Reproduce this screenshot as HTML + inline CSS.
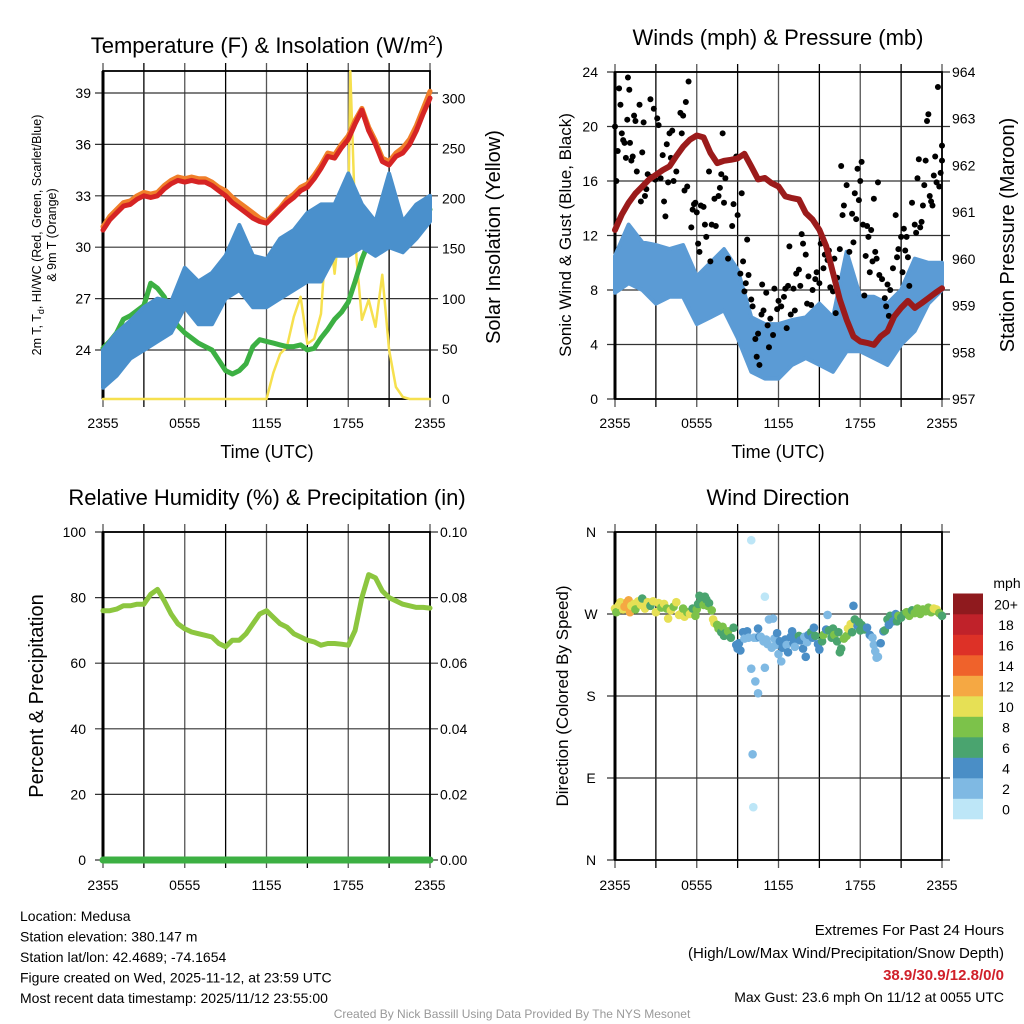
<!DOCTYPE html>
<html><head><meta charset="utf-8"><style>
body{margin:0;background:#fff;width:1024px;height:1024px;overflow:hidden}
svg{display:block;font-family:"Liberation Sans",sans-serif}
</style></head><body>
<svg id="s" width="1024" height="1024" viewBox="0 0 1024 1024"></svg>
<script>
// ---- data ----
const hours = [0,0.5,1,1.5,2,2.5,3,3.5,4,4.5,5,5.5,6,6.5,7,7.5,8,8.5,9,9.5,10,10.5,11,11.5,12,12.5,13,13.5,14,14.5,15,15.5,16,16.5,17,17.5,18,18.5,19,19.5,20,20.5,21,21.5,22,22.5,23,23.5,24];
const hourly = [0,1,2,3,4,5,6,7,8,9,10,11,12,13,14,15,16,17,18,19,20,21,22,23,24];
const tempRed = [31.0,31.6,32.0,32.4,32.5,32.8,33.0,32.9,33.0,33.4,33.7,33.9,33.8,33.9,33.8,33.8,33.6,33.3,33.0,32.6,32.3,32.0,31.7,31.5,31.4,31.8,32.2,32.6,32.9,33.3,33.5,34.0,34.6,35.3,35.2,35.8,36.3,37.2,38.0,36.8,36.0,35.0,34.8,35.3,35.5,36.0,36.8,37.8,38.7];
const temp9m = [31.2,31.8,32.2,32.6,32.7,33.0,33.2,33.1,33.2,33.6,33.9,34.1,34.0,34.1,34.0,34.0,33.8,33.5,33.3,32.9,32.6,32.3,32.0,31.7,31.5,31.9,32.3,32.8,33.1,33.5,33.7,34.2,34.8,35.5,35.4,36.0,36.5,37.4,38.1,37.0,36.2,35.2,35.0,35.5,35.8,36.3,37.1,38.1,39.1];
const dewGreen = [24.1,24.5,25.0,25.8,26.0,26.3,26.6,27.9,27.6,27.1,26.0,25.4,25.0,24.7,24.4,24.2,24.0,23.4,22.8,22.6,22.8,23.2,24.2,24.6,24.5,24.4,24.3,24.2,24.2,24.3,24.0,24.1,24.7,25.2,25.8,26.2,26.8,28.0,29.3,30.3,31.4,31.8,31.0,30.8,31.0,31.3,31.6,31.9,32.2];
const wcLow  = [21.8,22.5,23.5,24.0,24.5,25.0,26.5,25.5,25.5,27.0,27.5,26.5,26.5,27.0,27.5,28.0,28.0,29.5,29.5,30.0,29.5,30.0,29.7,30.5,31.5];
const wcHigh = [24.0,25.0,25.7,26.5,27.0,26.8,28.8,28.0,28.5,29.5,31.3,29.5,29.3,30.5,31.0,32.0,32.5,32.5,34.3,32.5,31.5,34.3,31.5,32.5,33.0];
const solarTimes = [0,12,12.5,13,13.5,14,14.5,15,15.5,16,16.5,17,17.5,18,18.15,18.6,19,19.5,20,20.5,21,21.5,22,22.5,24];
const solarVals = [0,0,26,45,52,82,102,55,60,85,185,125,192,182,327,142,79,99,72,124,49,12,2,0,0];
const tempTicks = [24,27,30,33,36,39];
const solarTicks = [0,50,100,150,200,250,300];
const timeLabels = ["2355","0555","1155","1755","2355"];

const windLow  = [7.8,8.5,8.0,7.0,7.5,7.5,5.5,6.0,6.5,4.5,2.0,1.5,1.5,2.5,3.0,2.5,2.0,3.5,3.5,3.0,2.5,4.0,5.0,7.0,8.0];
const windHigh = [10.5,12.8,11.5,11.3,11.0,11.3,9.0,10.0,11.0,9.5,6.0,5.5,5.5,5.8,6.0,7.0,6.0,10.8,7.5,7.5,7.0,8.0,10.3,10.0,10.0];
const pressure = [960.62,960.95,961.2,961.4,961.55,961.7,961.8,961.9,961.98,962.2,962.4,962.55,962.64,962.6,962.27,962.05,962.1,962.12,962.15,962.25,961.98,961.7,961.73,961.62,961.55,961.34,961.3,961.27,960.98,960.84,960.62,960.27,959.7,959.13,958.7,958.34,958.23,958.2,958.16,958.34,958.45,958.77,958.95,959.1,958.95,959.05,959.16,959.27,959.37];
const gustTimes = [0,0.1,0.2,0.3,0.4,0.5,0.6,0.7,0.8,0.9,0.95,1.05,1.1,1.2,1.3,1.4,1.5,1.6,1.8,1.9,2.0,2.1,2.2,2.3,2.4,2.6,2.7,2.85,2.95,3.1,3.2,3.35,3.5,3.6,3.7,3.8,3.9,4.0,4.1,4.2,4.3,4.5,4.8,4.9,5.0,5.1,5.2,5.3,5.4,5.6,5.7,5.8,5.9,6.0,6.1,6.2,6.3,6.5,6.6,6.7,6.9,7.0,7.1,7.3,7.4,7.6,7.7,7.8,7.9,8.0,8.1,8.3,8.6,8.7,8.9,9.0,9.2,9.3,9.4,9.5,9.6,9.7,9.8,10.0,10.1,10.3,10.4,10.5,10.6,10.75,10.8,10.9,11.1,11.2,11.3,11.4,11.6,11.7,11.9,12.0,12.2,12.4,12.5,12.6,12.7,12.8,12.9,13.1,13.2,13.3,13.5,13.6,13.7,13.8,14.0,14.1,14.2,14.4,14.5,14.7,14.8,15.0,15.1,15.3,15.4,15.6,15.7,15.8,16.0,16.1,16.2,16.3,16.5,16.6,16.7,16.8,17.0,17.2,17.4,17.5,17.6,17.7,17.8,17.9,18.0,18.1,18.2,18.3,18.4,18.5,18.6,18.7,18.8,18.9,19.0,19.1,19.2,19.3,19.4,19.6,19.8,19.9,20.0,20.1,20.2,20.4,20.6,20.7,20.8,21.0,21.1,21.2,21.3,21.4,21.5,21.6,21.8,22.0,22.1,22.2,22.3,22.4,22.5,22.6,22.7,22.8,22.9,23.0,23.1,23.2,23.3,23.4,23.5,23.6,23.7,23.8,23.9,24.0,24.0];
const gustVals = [20,16,18.2,22.8,21.6,19.5,19,18.8,17.7,20.5,23.6,22.7,18.8,17.5,17.8,20.8,20.4,16.7,21.6,14.5,18.1,20.3,14.9,15.4,16.5,22,16.3,21.3,16.1,20.6,20.1,16.2,17.9,14.5,13.4,18.7,15.9,19.5,17.7,19.7,16.0,16.7,21,19.5,20.8,15.3,21.8,15.6,23.3,12.6,13.9,14.3,14.4,13.7,11.4,10.8,14.2,14.1,12.8,11.9,16.7,10.1,12.8,14.7,12.7,14.9,15.5,16.5,19.5,14.4,16.2,10.3,12.7,14.3,17.8,13.5,9.2,15.1,10.1,7.9,8.5,11.7,9.1,7.3,6.8,4.4,3.1,4.8,2.5,6.2,8.4,6.5,7.8,5.4,3.8,5.9,4.7,8.1,6.6,7.2,6.8,7.5,8.1,5.2,8.3,11.2,6.2,8.1,6.5,9.2,9.5,8.3,12.1,11.4,10.6,7.0,9.0,6.9,8.0,8.8,9.3,8.5,11.4,9.6,10.6,10.2,10.9,8.2,7.9,10.3,6.3,8.9,11.0,17.1,13.5,14.2,15.7,10.8,13.6,11.5,15.1,13.2,16.9,14.6,16.0,17.4,12.8,7.6,10.5,12.7,11.9,9.3,12.4,10.1,14.7,10.8,10.3,15.9,9.1,8.8,7.4,6.8,8.4,6.1,8.0,9.6,13.5,10.4,11.0,11.9,9.3,12.5,10.9,11.9,10.4,8.3,14.4,12.8,12.2,16.2,17.6,12.6,13.0,14.2,15.7,17.5,20.4,20.9,14.9,14.5,14.2,16.4,17.8,15.9,22.9,15.6,16.6,18.6,17.5];
const windTicks = [0,4,8,12,16,20,24];
const pressTicks = [957,958,959,960,961,962,963,964];

const rh = [76,76,76.5,77.5,77.5,78,78,81,82.5,79,75,72,70.5,69.5,69,68.5,68,66,65,67,67,69,72,75,76,74,72,71,69,68,67,66.5,65.5,66,66,65.8,65.5,70,80,87,86,82,80,79,78,77.5,77,77,76.8];
const precip = [0,0,0,0,0,0,0,0,0,0,0,0,0,0,0,0,0,0,0,0,0,0,0,0,0];
const rhTicks = [0,20,40,60,80,100];
const precipTicks = ["0.00","0.02","0.04","0.06","0.08","0.10"];

const dirTimes = [0.0,0.1,0.3,0.4,0.6,0.7,0.9,1.0,1.1,1.2,1.4,1.5,1.7,1.9,2.0,2.2,2.4,2.6,2.8,3.0,3.2,3.4,3.6,3.8,3.9,4.1,4.3,4.5,4.7,4.9,5.0,5.1,5.3,5.5,5.7,5.9,6.0,6.1,6.2,6.3,6.5,6.6,6.7,6.8,6.9,7.1,7.2,7.3,7.5,7.6,7.8,7.9,8.0,8.1,8.3,8.5,8.7,8.9,9.0,9.1,9.2,9.4,9.5,9.7,9.8,10.0,10.0,10.1,10.15,10.2,10.3,10.4,10.5,10.5,10.6,10.7,10.9,11.0,11.0,11.1,11.2,11.3,11.5,11.6,11.7,11.8,11.9,12.0,12.1,12.2,12.3,12.5,12.6,12.7,12.9,13.0,13.1,13.2,13.4,13.5,13.6,13.8,13.9,14.0,14.1,14.2,14.4,14.5,14.6,14.7,14.9,15.0,15.2,15.3,15.5,15.6,15.7,15.9,16.0,16.1,16.3,16.4,16.5,16.6,16.8,17.0,17.1,17.3,17.4,17.5,17.6,17.8,17.9,18.0,18.1,18.3,18.5,18.7,18.9,19.0,19.1,19.2,19.3,19.5,19.7,19.8,20.0,20.1,20.2,20.4,20.6,20.7,20.8,21.0,21.2,21.4,21.6,21.8,22.0,22.2,22.4,22.6,22.8,23.0,23.2,23.4,23.6,23.8,24.0];
const dirVals = [276,272,280,283,275,278,283,285,272,279,281,275,284,280,287,276,283,279,284,272,282,277,281,276,265,274,278,283,269,271,276,267,272,270,276,268,275,281,290,284,280,289,286,279,282,274,264,260,258,254,250,256,246,249,251,244,255,236,232,238,230,250,243,251,244,351,210,116,58,244,196,244,183,254,245,245,240,289,211,242,237,264,233,265,243,236,249,226,240,218,233,242,236,228,245,251,238,234,244,246,241,232,245,223,239,247,250,244,255,246,237,231,240,247,253,269,252,244,254,247,240,250,228,232,243,246,254,259,250,279,264,257,261,252,258,253,255,247,244,236,229,222,223,238,251,252,264,258,268,262,270,262,268,266,270,272,268,274,271,276,270,275,273,277,272,276,275,271,268];
const dirSpeeds = [10,9,10,11,10,12,13,13,12,10,10,9,10,10,7,10,10,7,10,10,10,9,10,9,10,10,9,10,10,10,9,10,9,10,6,8,8,6,6,7,8,6,6,8,6,8,10,10,8,8,7,8,6,7,8,6,6,4,4,4,4,5,2,4,3,0,2,2,0,3,2,2,2,4,4,2,2,1,2,2,2,2,2,2,3,2,4,3,4,2,4,4,2,4,4,5,4,2,4,6,4,4,3,4,2,4,6,4,5,6,4,4,6,8,4,2,6,7,6,8,7,6,6,6,8,8,10,10,7,4,6,4,6,7,6,7,4,4,2,2,2,2,2,4,5,6,6,5,6,4,4,6,8,6,7,8,8,7,8,8,9,8,8,8,9,10,10,8,7];
const speedColors = ["#bde6f7","#7fb9e3","#4a8ec6","#4aa46f","#7cc24a","#e6e055","#f5a843","#ef622b","#dd3127","#c0222a","#8f1a1e"];
const speedLabels = ["0","2","4","6","8","10","12","14","16","18","20+"];
const dirTicks = ["N","E","S","W","N"];

// ---- drawing ----
const NS="http://www.w3.org/2000/svg", S=document.getElementById('s');
function el(tag,attrs,parent,text){const e=document.createElementNS(NS,tag);for(const k in attrs)e.setAttribute(k,attrs[k]);if(text!==undefined)e.textContent=text;(parent||S).appendChild(e);return e;}
function lin(d0,d1,r0,r1){return v=>r0+(v-d0)/(d1-d0)*(r1-r0);}

function frame(g,x0,x1,y0,y1,yTicks,ys){
  for(let i=0;i<=8;i++){const x=x0+(x1-x0)*i/8;
    const l=el('line',{x1:x,x2:x,y1:y0-8,y2:y1+8,stroke:i%2?'#000':'#555','stroke-width':1.3},g);
    
    }
  yTicks.forEach(t=>{const y=ys(t);
    const l=el('line',{x1:x0-8,x2:x1+8,y1:y,y2:y,stroke:'#333','stroke-width':1.2},g);
    
    });
  const r=el('rect',{x:x0,y:y0,width:x1-x0,height:y1-y0,fill:'none',stroke:'#000','stroke-width':1.8},g);
  
  
  el('line',{x1:x0,x2:x0,y1:y0,y2:y1,stroke:'#000','stroke-width':3},g);
}
function xLabels(g,x0,x1,y){timeLabels.forEach((t,i)=>{const tx=el('text',{x:x0+(x1-x0)*i/4,y:y,'font-size':14,'text-anchor':'middle'},g,t);
  
  });}
function poly(g,xs,ys,color,w,name){const pts=xs.map((x,i)=>x.toFixed(1)+','+ys[i].toFixed(1)).join(' ');
  const p=el('polyline',{points:pts,fill:'none',stroke:color,'stroke-width':w,'stroke-linejoin':'round','stroke-linecap':'round'},g);
  
  return p;}
function band(g,xs,lo,hi,color,name){
  const pts=xs.map((x,i)=>x.toFixed(1)+','+hi[i].toFixed(1)).concat(xs.map((x,i)=>x.toFixed(1)+','+lo[i].toFixed(1)).reverse()).join(' ');
  const p=el('polygon',{points:pts,fill:color,stroke:color,'stroke-width':4,'stroke-linejoin':'round'},g);
  
  return p;}
function text(g,x,y,s,size,anchor,name,extra){const t=el('text',Object.assign({x:x,y:y,'font-size':size,'text-anchor':anchor||'start'},extra||{}),g,s);
  
  return t;}

// Panel 1
{const g=el('g',{});
 const X0=103,X1=430,Y0=71,Y1=399;
 const xs=lin(0,24,X0,X1), yt=lin(39,24,93,350), yso=lin(0,300,399,98.3);
 frame(g,X0,X1,Y0,Y1,tempTicks,yt);
 tempTicks.forEach(t=>text(g,X0-12,yt(t)+5,String(t),14,'end','left-tick-label'));
 solarTicks.forEach(t=>{text(g,X1+12,yso(t)+5,String(t),14,'start','right-tick-label');});
 xLabels(g,X0,X1,428);
 poly(g,solarTimes.map(xs),solarVals.map(yso),'#f6e04e',2.5,'solar-insolation-line');
 poly(g,hours.map(xs),dewGreen.map(yt),'#3cb043',5,'dewpoint-line');
 band(g,hourly.map(xs),wcLow.map(yt),wcHigh.map(yt),'#4a90cc','windchill-band');
 poly(g,hours.map(xs),temp9m.map(yt),'#f07f2a',5,'temp-9m-line');
 poly(g,hours.map(xs),tempRed.map(yt),'#d62424',5,'temp-2m-line');
 const t=text(g,267,53,'Temperature (F) & Insolation (W/m',22,'middle','panel-title');
 el('tspan',{dy:-8,'font-size':14},t,'2');el('tspan',{dy:8},t,')');
 text(g,267,458,'Time (UTC)',18,'middle','x-axis-title');
 const yl=el('text',{transform:'translate(41,235) rotate(-90)','font-size':12.5,'text-anchor':'middle'},g,'2m T, T');
 el('tspan',{'font-size':9,dy:3},yl,'d');el('tspan',{dy:-3},yl,', HI/WC (Red, Green, Scarlet/Blue)');
 
 text(g,0,0,'& 9m T (Orange)',12.5,'middle','left-y-axis-title-line2',{transform:'translate(56,235) rotate(-90)'});
 text(g,0,0,'Solar Insolation (Yellow)',20,'middle','right-y-axis-title',{transform:'translate(500,237) rotate(-90)'});
}
// Panel 2
{const g=el('g',{});
 const X0=615,X1=942,Y0=72,Y1=399;
 const xs=lin(0,24,X0,X1), yw=lin(0,24,Y1,Y0), yp=lin(957,964,Y1,Y0);
 frame(g,X0,X1,Y0,Y1,windTicks,yw);
 windTicks.forEach(t=>text(g,X0-17,yw(t)+5,String(t),14,'end','left-tick-label'));
 pressTicks.forEach(t=>text(g,X1+10,yp(t)+5,String(t),14,'start','right-tick-label'));
 xLabels(g,X0,X1,428);
 band(g,hourly.map(xs),windLow.map(yw),windHigh.map(yw),'#5b9bd5','sonic-wind-band');
 gustTimes.forEach((h,i)=>{const c=el('circle',{cx:xs(h),cy:yw(gustVals[i]),r:3,fill:'#000'},g);
   
   });
 poly(g,hours.map(xs),pressure.map(yp),'#9b1b1b',6,'pressure-line');
 text(g,778,45,'Winds (mph) & Pressure (mb)',22,'middle','panel-title');
 text(g,778,458,'Time (UTC)',18,'middle','x-axis-title');
 text(g,0,0,'Sonic Wind & Gust (Blue, Black)',17,'middle','left-y-axis-title',{transform:'translate(571,235) rotate(-90)'});
 text(g,0,0,'Station Pressure (Maroon)',20,'middle','right-y-axis-title',{transform:'translate(1014,235) rotate(-90)'});
}
// Panel 3
{const g=el('g',{});
 const X0=103,X1=430,Y0=532,Y1=860;
 const xs=lin(0,24,X0,X1), yr=lin(0,100,Y1,Y0);
 frame(g,X0,X1,Y0,Y1,rhTicks,yr);
 rhTicks.forEach(t=>text(g,X0-17,yr(t)+5,String(t),14,'end','left-tick-label'));
 precipTicks.forEach((t,i)=>text(g,X1+10,yr(i*20)+5,t,14,'start','right-tick-label'));
 xLabels(g,X0,X1,890);
 poly(g,hours.map(xs),rh.map(yr),'#8cc63f',5,'humidity-line');
 const ypc=lin(0,0.1,Y1,Y0);
 poly(g,precip.map((v,i)=>xs(i)),precip.map(ypc),'#3cb043',7,'precipitation-line');
 text(g,267,505,'Relative Humidity (%) & Precipitation (in)',22,'middle','panel-title');
 text(g,0,0,'Percent & Precipitation',20,'middle','left-y-axis-title',{transform:'translate(43,696) rotate(-90)'});
}
// Panel 4
{const g=el('g',{});
 const X0=615,X1=942,Y0=532,Y1=860;
 const xs=lin(0,24,X0,X1), yd=lin(0,360,Y1,Y0);
 frame(g,X0,X1,Y0,Y1,[0,90,180,270,360],yd);
 dirTicks.forEach((t,i)=>text(g,X0-24,yd(i*90)+5,t,14,'middle','left-tick-label'));
 xLabels(g,X0,X1,890);
 dirTimes.forEach((h,i)=>{const b=Math.min(10,Math.floor(dirSpeeds[i]/2));
   const c=el('circle',{cx:xs(h),cy:yd(dirVals[i]),r:4.3,fill:speedColors[b]},g);
   
   });
 text(g,778,505,'Wind Direction',22,'middle','panel-title');
 text(g,0,0,'Direction (Colored By Speed)',17,'middle','left-y-axis-title',{transform:'translate(568,696) rotate(-90)'});
 const lg=el('g',{},g);
 text(lg,1007,588,'mph',14,'middle','legend-title');
 speedColors.forEach((c,i)=>{const y=819-(i+1)*20.5;
   const r=el('rect',{x:953,y:y,width:30,height:20.8,fill:c},lg);
   
   
   text(lg,1006,y+16,speedLabels[i],14,'middle','legend-label');});
}
// Footer
{const g=el('g',{});
 ['Location: Medusa','Station elevation: 380.147 m','Station lat/lon: 42.4689; -74.1654','Figure created on Wed, 2025-11-12, at 23:59 UTC','Most recent data timestamp: 2025/11/12 23:55:00'].forEach((s,i)=>text(g,20,921+i*20.5,s,14,'start','station-info-line'));
 text(g,1004,935,'Extremes For Past 24 Hours',15,'end','extremes-title');
 text(g,1004,958,'(High/Low/Max Wind/Precipitation/Snow Depth)',15,'end','extremes-subtitle');
 text(g,1004,980,'38.9/30.9/12.8/0/0',15,'end','extremes-values',{fill:'#d0202a','font-weight':'bold'});
 text(g,1004,1002,'Max Gust: 23.6 mph On 11/12 at 0055 UTC',14,'end','max-gust');
 text(g,512,1018,'Created By Nick Bassill Using Data Provided By The NYS Mesonet',12,'middle','credit',{fill:'#999'});
}
</script>
</body></html>
